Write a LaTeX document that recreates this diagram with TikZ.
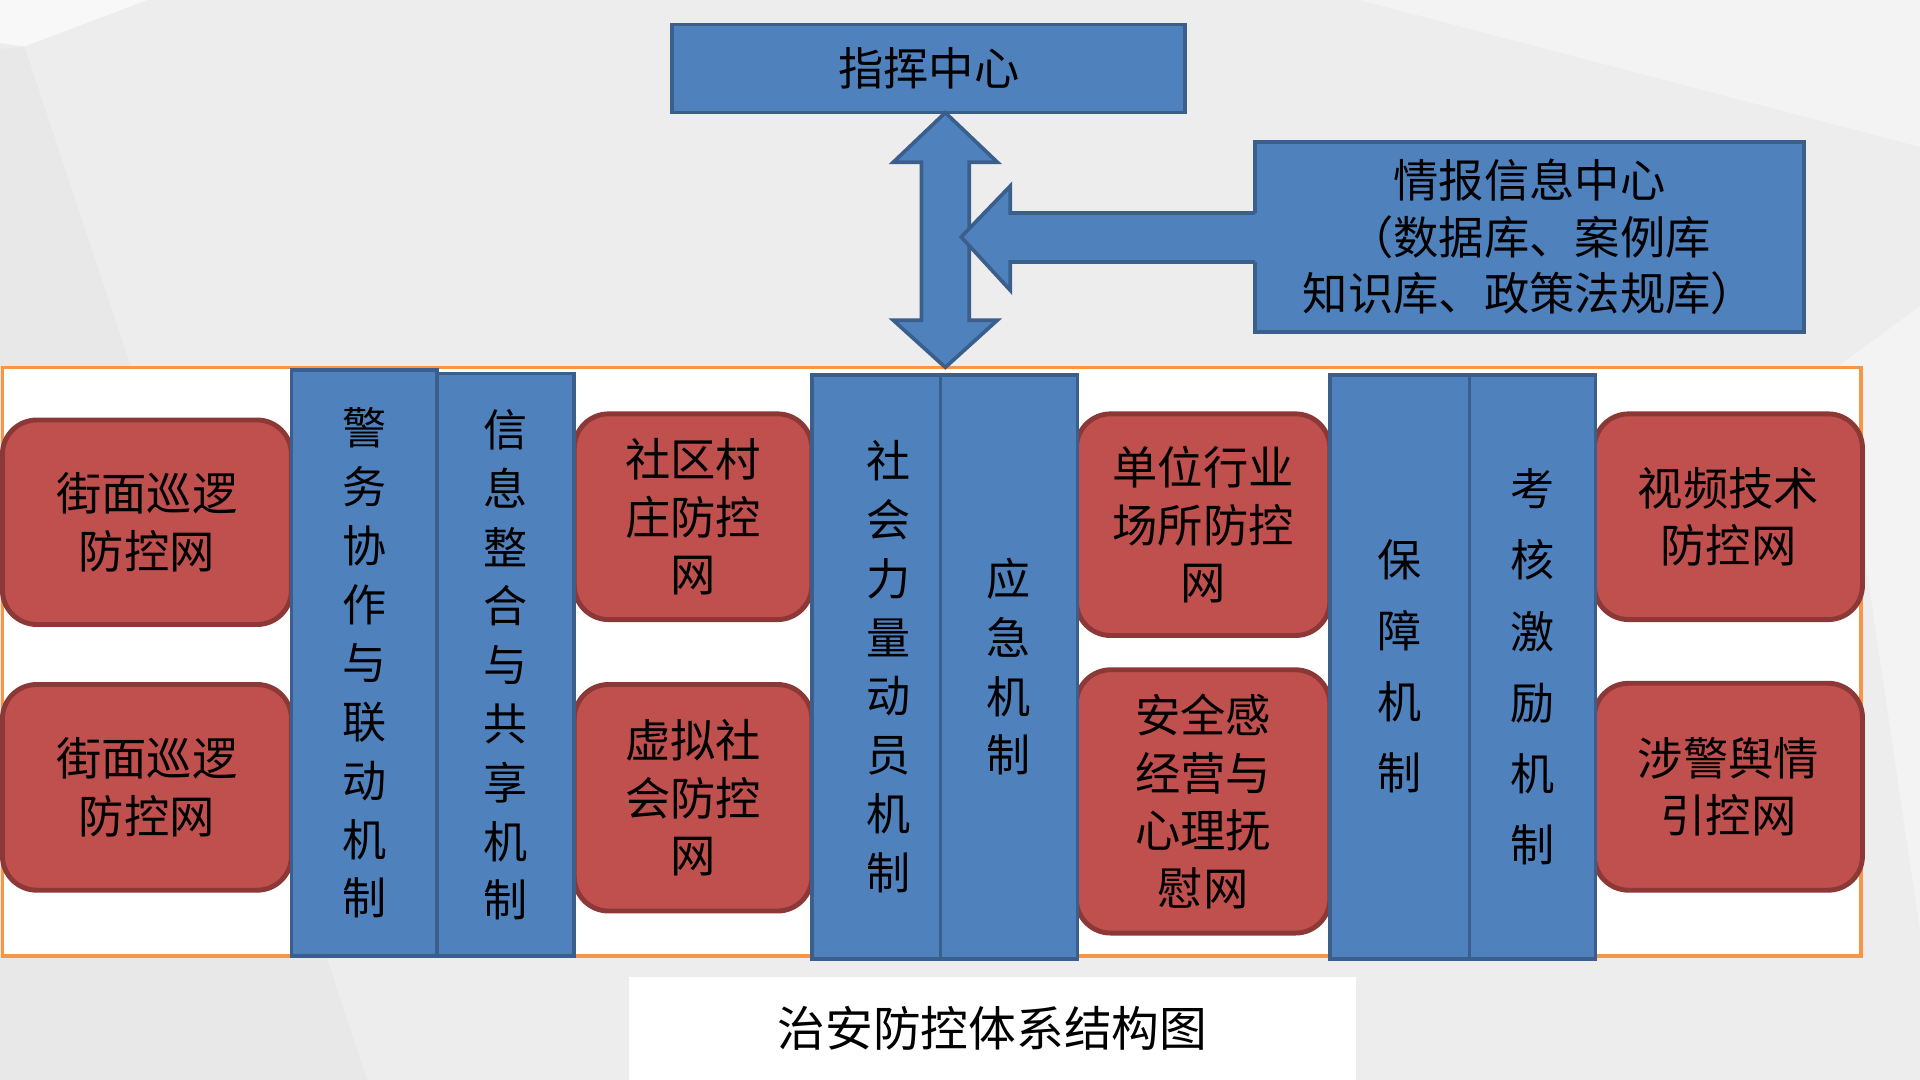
\documentclass[tikz,border=0pt]{standalone}
\usepackage{fontspec}
\newfontfamily\cjk{Noto Sans CJK SC}
\definecolor{boxblue}{HTML}{4F81BD}
\definecolor{blueline}{HTML}{3A5F8D}
\definecolor{boxred}{HTML}{C0504D}
\definecolor{redline}{HTML}{8C3836}
\definecolor{frameorange}{HTML}{F79646}
\definecolor{bggray}{HTML}{EDEDED}
\begin{document}
\begin{tikzpicture}[x=1pt,y=-1pt,
  bluebox/.style={draw=blueline, fill=boxblue, line width=3pt, outer sep=0pt, inner sep=0pt, align=center, font=\cjk\fontsize{37}{46.5}\selectfont},
  colbox/.style={bluebox, font=\cjk\fontsize{36}{48}\selectfont},
  widecol/.style={bluebox, font=\cjk\fontsize{36}{58}\selectfont},
  redbox/.style={draw=redline, fill=boxred, line width=4pt, rounded corners=28pt, outer sep=0pt, inner sep=0pt, align=center, minimum width=#1, font=\cjk\fontsize{37}{47}\selectfont},
  blockarrow/.style={draw=blueline, fill=boxblue, line width=3pt, line join=miter}]
\useasboundingbox (0,0) rectangle (1568,882);
\fill[bggray] (0,0) rectangle (1568,882);
\fill[white!60!bggray] (0,0) -- (120,0) -- (20,38) -- (0,35) -- cycle;
\fill[black!2!bggray] (0,40) -- (20,38) -- (300,882) -- (0,882) -- cycle;
\fill[white!30!bggray] (1110,0) -- (1568,0) -- (1568,120) -- cycle;
\fill[white!30!bggray] (1500,300) -- (1568,250) -- (1568,760) -- cycle;

\node[bluebox, minimum width=419pt, minimum height=72pt] (cmd) at (758.5,56) {指挥中心};
\node[bluebox, minimum width=448pt, minimum height=155pt] (info) at (1249,193.5) {情报信息中心\\（数据库、案例库\\知识库、政策法规库）};
\node[draw=frameorange, fill=white, line width=3pt, outer sep=0pt, minimum width=1518pt, minimum height=481pt] (frame) at (761,540.5) {};

\coordinate (vtop) at ([xshift=13.5pt]cmd.south);
\filldraw[blockarrow] (vtop) -- ++(42.5,40.5) -- ++(-23,0) -- ++(0,129) -- ++(23,0) -- ++(-42.5,38.5) -- ++(-42.5,-38.5) -- ++(23,0) -- ++(0,-129) -- ++(-23,0) -- cycle;
\fill[boxblue] (info.west) ++(4,-19.5) -- ++(-204,0) -- ++(0,-22) -- ++(-40,41.5) -- ++(40,43.5) -- ++(0,-23) -- ++(204,0) -- cycle;
\draw[blockarrow, fill=none] (info.west) ++(0,-19.5) -- ++(-200,0) -- ++(0,-22) -- ++(-40,41.5) -- ++(40,43.5) -- ++(0,-23) -- ++(200,0);

\node[redbox=236pt, minimum height=167pt] (street1) at (120,426.5) {街面巡逻\\防控网};
\node[redbox=236pt, minimum height=168pt] (street2) at (120,643) {街面巡逻\\防控网};
\node[redbox=194pt, minimum height=168pt] (village) at (566,422) {社区村\\庄防控\\网};
\node[redbox=194pt, minimum height=185pt] (virtual) at (566,651.5) {虚拟社\\会防控\\网};
\node[redbox=207pt, minimum height=181pt] (unit) at (982.5,428.5) {单位行业\\场所防控\\网};
\node[redbox=207pt, minimum height=215pt] (safety) at (982.5,654.5) {安全感\\经营与\\心理抚\\慰网};
\node[redbox=219pt, minimum height=168pt] (video) at (1411.5,422) {视频技术\\防控网};
\node[redbox=219pt, minimum height=169pt] (opinion) at (1411.5,642.5) {涉警舆情\\引控网};

\node[colbox, minimum width=119pt, minimum height=479pt] (police) at (297.5,541.5) {警\\务\\协\\作\\与\\联\\动\\机\\制};
\node[colbox, minimum width=112pt, minimum height=476pt] (share) at (413,543) {信\\息\\整\\合\\与\\共\\享\\机\\制};
\node[colbox, minimum width=105pt, minimum height=477pt] (social) at (715.5,544.5) {};
\node[colbox, draw=none, fill=none] (socialtext) at ([xshift=10pt]social.center) {社\\会\\力\\量\\动\\员\\机\\制};
\node[colbox, minimum width=112pt, minimum height=477pt] (urgent) at (824,544.5) {应\\急\\机\\制};
\node[widecol, minimum width=114pt, minimum height=477pt] (support) at (1143,544.5) {保\\障\\机\\制};
\node[widecol, minimum width=103pt, minimum height=477pt] (reward) at (1251.5,544.5) {考\\核\\激\\励\\机\\制};

\node[fill=white, minimum width=593pt, minimum height=84pt, font=\cjk\fontsize{39}{47}\selectfont] (title) at (810.5,840) {治安防控体系结构图};
\end{tikzpicture}
\end{document}
